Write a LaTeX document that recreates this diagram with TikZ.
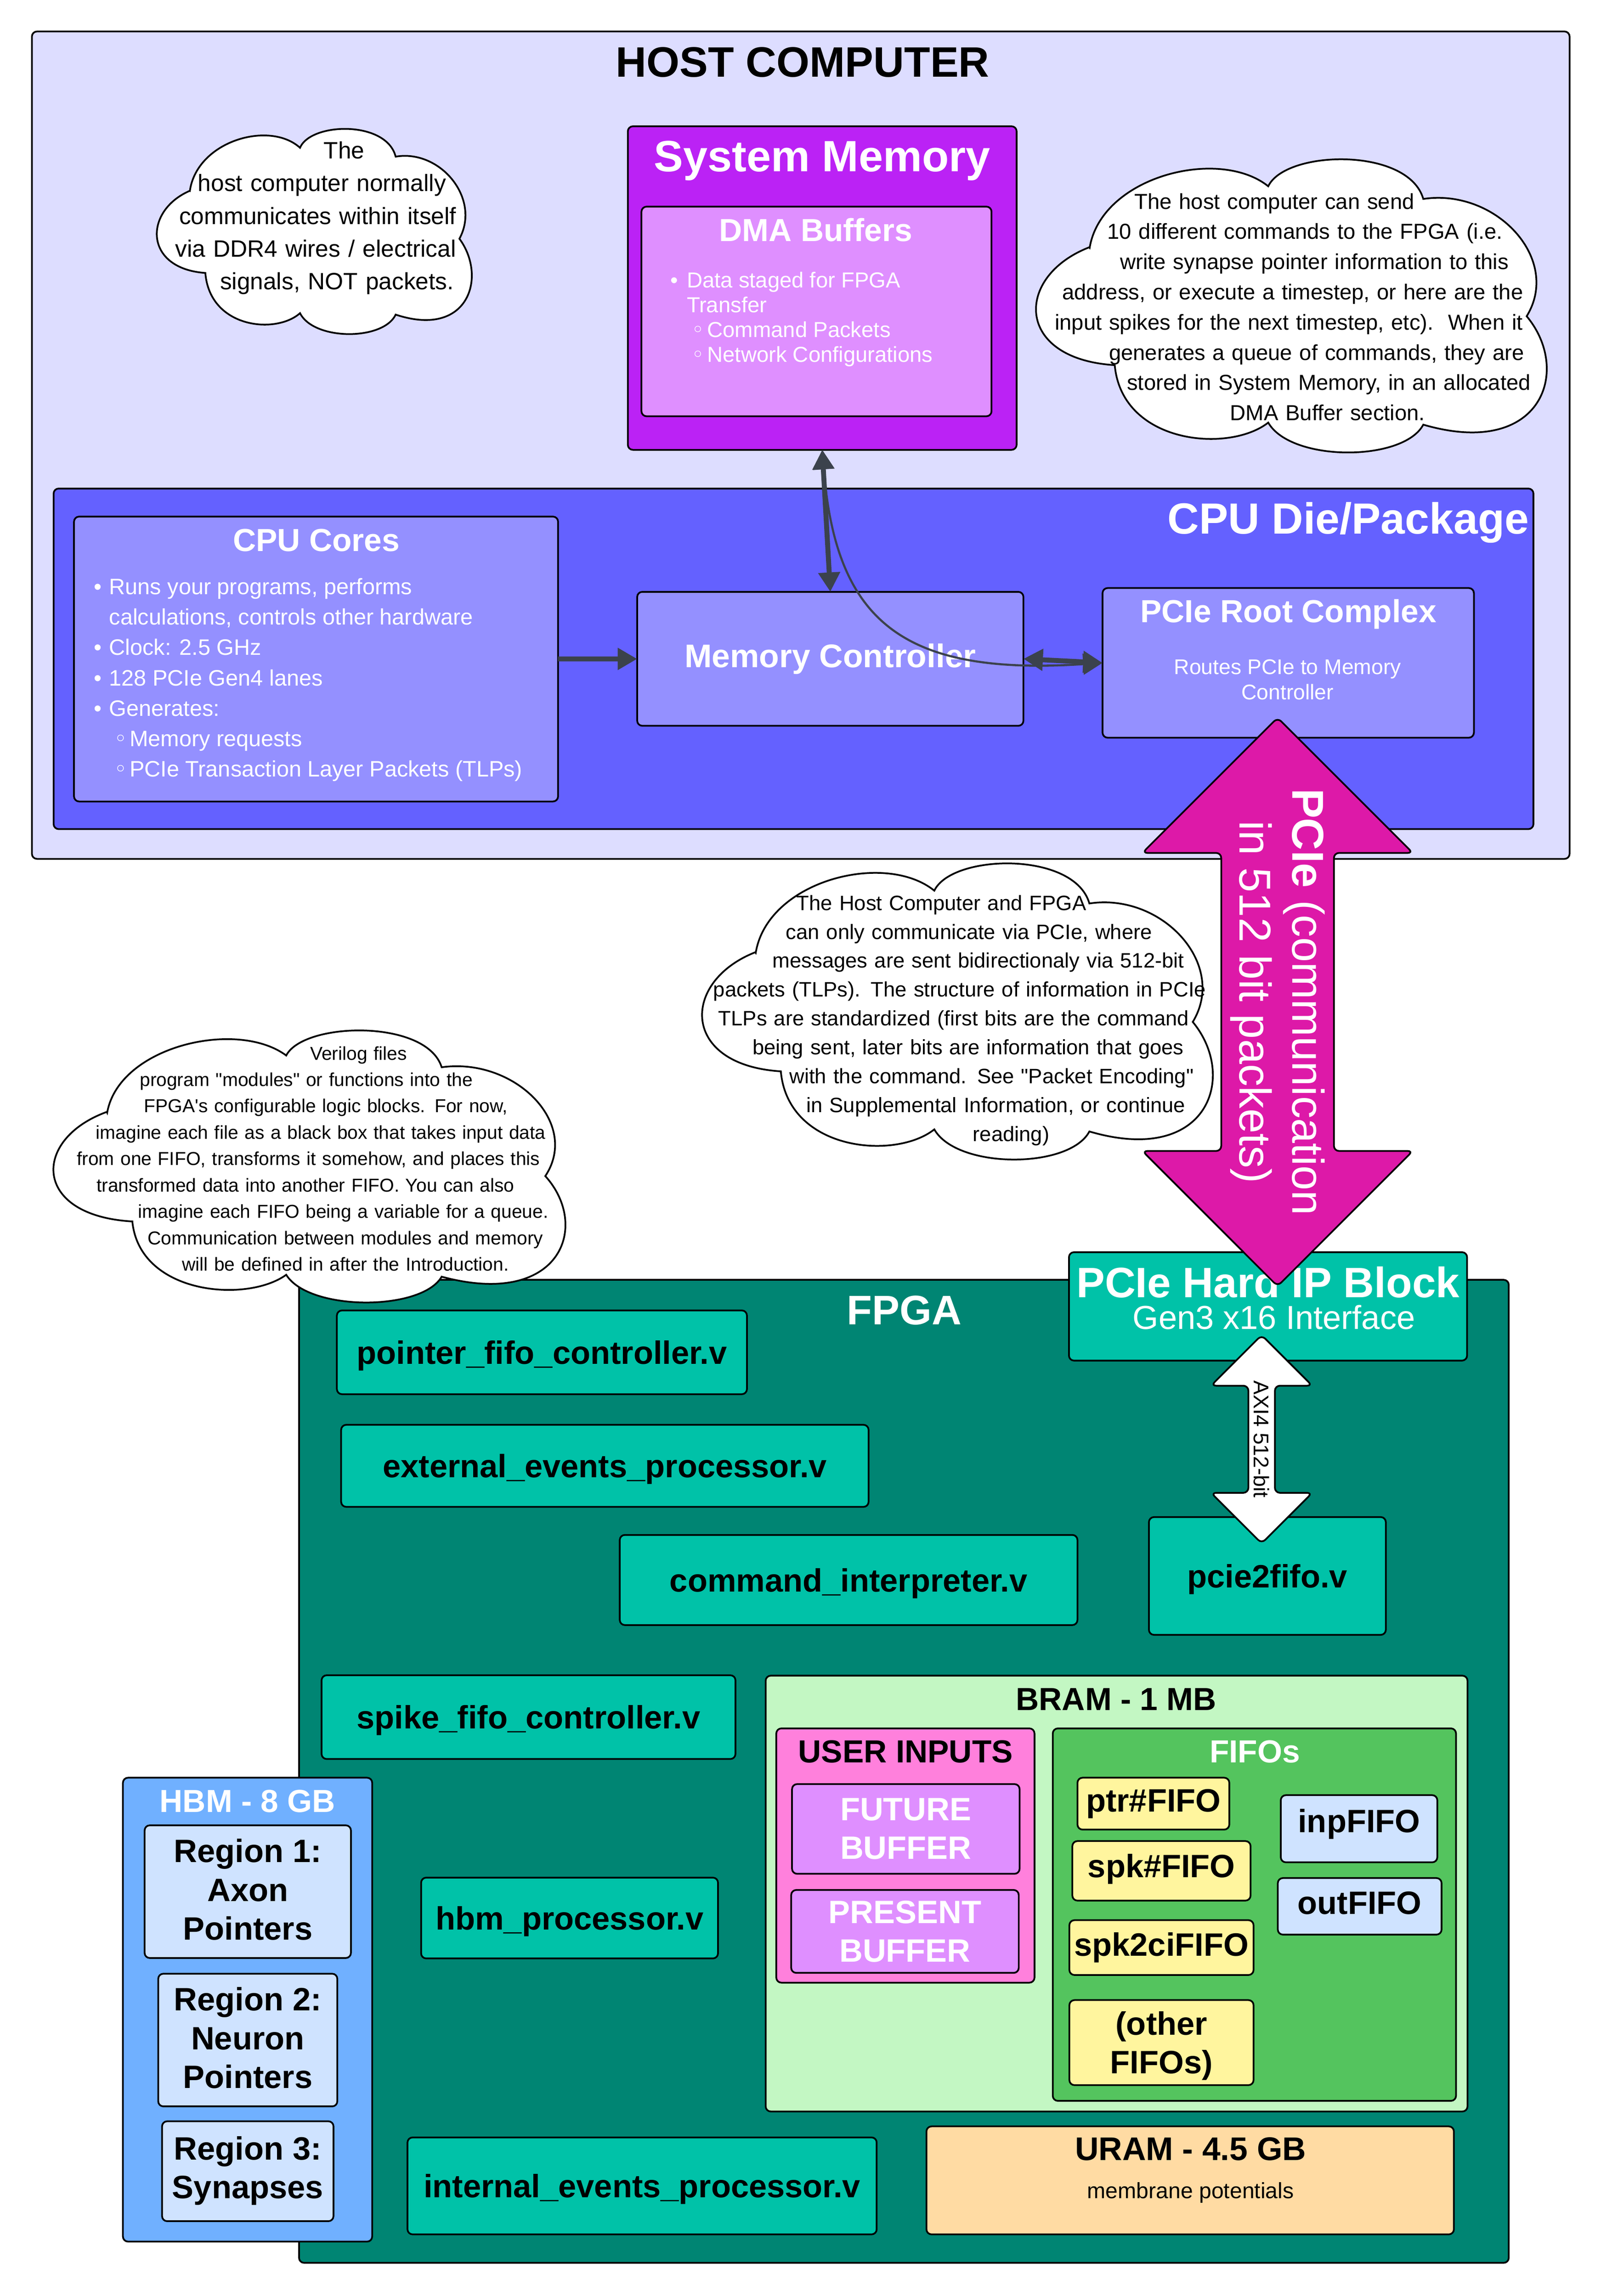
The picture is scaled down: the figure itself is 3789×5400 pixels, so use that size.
\documentclass[tikz,border=0pt]{standalone}
\usepackage{fontspec}
\setmainfont{Liberation Sans}[Ligatures=TeXOff]
\newfontfamily\symfont{DejaVu Sans}
\usetikzlibrary{arrows.meta,shapes.arrows}

\definecolor{hostbg}{HTML}{DDDDFF}
\definecolor{diebg}{HTML}{6461FF}
\definecolor{corebg}{HTML}{9490FF}
\definecolor{sysmem}{HTML}{BB22F5}
\definecolor{dmabg}{HTML}{DF8FFF}
\definecolor{linkpink}{HTML}{DD19A8}
\definecolor{fpgabg}{HTML}{008573}
\definecolor{modbg}{HTML}{00C2A8}
\definecolor{brambg}{HTML}{C3F7C3}
\definecolor{userbg}{HTML}{FF80DC}
\definecolor{fifobg}{HTML}{54C45E}
\definecolor{fifoyel}{HTML}{FFF59E}
\definecolor{hbmbg}{HTML}{70B0FF}
\definecolor{regbg}{HTML}{CFE3FF}
\definecolor{urambg}{HTML}{FFDBA3}
\definecolor{wire}{HTML}{3B424C}

% sizes are given in reference pixels
\newcommand{\px}[2]{\fontsize{\fpeval{#1*0.2845}}{\fpeval{#2*0.2845}}\selectfont}
\newcommand{\pbox}[7]{\node[panel,#1,minimum width={(#5-#3)*0.01cm},minimum height={(#6-#4)*0.01cm}] (#2) at ({(#3+#5)/2},{(#4+#6)/2}) {#7};}
\newcommand{\cloudbox}[4]{\draw[cloudline,shift={(#1,#2)},xscale=#3-#1,yscale=#4-#2]
    (.107,.303) .. controls (.13,.06) and (.36,-.04) .. (.456,.094)
    .. controls (.49,-.03) and (.73,-.04) .. (.759,.137)
    .. controls (.90,.10) and (1.03,.34) .. (.961,.535)
    .. controls (1.05,.72) and (.99,1.02) .. (.759,.903)
    .. controls (.72,1.03) and (.50,1.03) .. (.456,.896)
    .. controls (.38,1.0) and (.17,.97) .. (.156,.701)
    .. controls (-.04,.68) and (-.04,.40) .. cycle;}
\newcommand{\sh}[1]{\hspace*{\fpeval{#1*0.02}cm}}
\newcommand{\itm}[2]{\hspace*{#1}\makebox[#2][l]{•}}
\newcommand{\sitm}[2]{\hspace*{#1}\makebox[#2][l]{\symfont ◦}}

\tikzset{
    panel/.style={draw=black, line width=1.15pt, rounded corners=3.4pt, inner sep=0pt, outer sep=0pt, align=center},
    bighead/.style={font=\px{100}{120}\bfseries, inner sep=0pt},
    subhead/.style={font=\px{75}{92}\bfseries, inner sep=0pt},
    filelabel/.style={font=\px{76}{91}\bfseries},
    modlabel/.style={filelabel, text depth=0pt},
    bodytext/.style={font=\px{50}{58.5}, inner sep=0pt, align=left},
    cloudline/.style={draw=black, fill=white, line width=1.15pt},
    cloudtext/.style={inner sep=0pt, align=center},
    thickwire/.style={draw=wire, line width=3.3pt},
    wiretip/.style={arrows={-{Triangle[length=13pt,width=14pt]}}},
    wiretips/.style={arrows={{Triangle[length=13pt,width=14pt]}-{Triangle[length=13pt,width=14pt]}}},
    blockarrow/.style={double arrow, draw=black, line width=1.15pt, rounded corners=3.4pt, inner sep=0pt, outer sep=0pt, rotate=-90, align=center},
}

\begin{document}
\begin{tikzpicture}[x=0.01cm, y=-0.01cm]
    \useasboundingbox (0,0) rectangle (3789,5400);

    % host side
    \pbox{fill=hostbg}{host}{75}{74}{3690}{2020}{}
    \node[bighead, anchor=base] (hosttitle) at (1887,181) {HOST COMPUTER};

    \cloudbox{367}{302}{1109}{787}
    \node[cloudtext, text width=9cm, font=\px{55.5}{77}] (hostnote) at (750,513) {\sh{59}The\\\sh{7}host computer normally\\\sh{-3}communicates within itself\\\sh{-8}via DDR4 wires / electrical\\\sh{42}signals, NOT packets.};

    \cloudbox{2433}{373}{3636}{1066}
    \node[cloudtext, text width=14cm, font=\px{51}{71}] (cmdnote) at (3060,722) {\sh{-64}The host computer can send\\\sh{8}10 different commands to the FPGA (i.e.\\\sh{30}write synapse pointer information to this\\\sh{-21}address, or execute a timestep, or here are the\\\sh{-30}input spikes for the next timestep, etc).\ \ When it\\\sh{35}generates a queue of commands, they are\\\sh{64}stored in System Memory, in an allocated\\\sh{61}DMA Buffer section.};

    \pbox{fill=sysmem}{sysmem}{1476}{297}{2390}{1058}{}
    \node[font=\px{103}{120}\bfseries, inner sep=0pt, text=white, anchor=base] (sysmemtitle) at (1933,403) {System Memory};
    \pbox{fill=dmabg}{dma}{1508}{486}{2331}{979}{}
    \node[subhead, text=white, anchor=base] (dmatitle) at (1918,568) {DMA Buffers};
    \node[bodytext, text=white, anchor=west, font=\px{51}{58.5}] (dmatext) at (1575,751) {\itm{0pt}{0.39cm}Data staged for FPGA\\\hspace*{0.39cm}Transfer\\\sitm{0.50cm}{0.37cm}Command Packets\\\sitm{0.50cm}{0.37cm}Network Configurations};

    \pbox{fill=diebg}{die}{126}{1149}{3605}{1950}{}
    \node[font=\px{102.5}{120}\bfseries, inner sep=0pt, text=white, anchor=base east] (dietitle) at (3595,1256) {CPU Die/Package};

    \pbox{fill=corebg}{cores}{174}{1215}{1312}{1885}{}
    \node[subhead, text=white, anchor=base] (corestitle) at (744,1297) {CPU Cores};
    \node[bodytext, text=white, anchor=west, font=\px{52.5}{71.5}] (corestext) at (220,1599) {\itm{0pt}{0.36cm}Runs your programs, performs\\\hspace*{0.36cm}calculations, controls other hardware\\\itm{0pt}{0.36cm}Clock: 2.5 GHz\\\itm{0pt}{0.36cm}128 PCIe Gen4 lanes\\\itm{0pt}{0.36cm}Generates:\\\sitm{0.48cm}{0.36cm}Memory requests\\\sitm{0.48cm}{0.36cm}PCIe Transaction Layer Packets (TLPs)};

    \pbox{fill=corebg, font=\px{77}{92}\bfseries, text=white}{memctrl}{1498}{1392}{2406}{1707}{Memory Controller}
    \pbox{fill=corebg}{root}{2592}{1383}{3465}{1735}{}
    \node[subhead, text=white, anchor=base] (roottitle) at (3029,1464) {PCIe Root Complex};
    \node[bodytext, text=white, align=center, anchor=base] (roottext) at (3027,1645) {Routes PCIe to Memory\\Controller};

    \draw[thickwire, wiretip] (cores) -- (memctrl);
    \draw[thickwire, wiretips] (sysmem.south) -- (memctrl.north);
    \draw[thickwire, wiretips] (memctrl.east) -- (root.west);
    \draw[draw=wire, line width=1.4pt, wiretips] (sysmem.south) .. controls (1965,1460) and (2120,1590) .. (root.west);

    % fpga side
    \pbox{fill=fpgabg}{fpga}{703}{3010}{3547}{5322}{}
    \node[font=\px{97}{120}\bfseries, inner sep=0pt, text=white, anchor=base] (fpgatitle) at (2126,3115) {FPGA};

    \pbox{fill=modbg}{hardip}{2513}{2945}{3449}{3200}{}
    \node[font=\px{100}{120}\bfseries, text=white, inner sep=0pt, anchor=base] (hardtitle) at (2981,3051) {PCIe Hard IP Block};
    \node[font=\px{78}{90}, text=white, inner sep=0pt, anchor=base] (hardsub) at (2995,3126) {Gen3 x16 Interface};

    \pbox{fill=modbg, modlabel}{ptrctrl}{792}{3082}{1756}{3279}{pointer\_fifo\_controller.v}
    \pbox{fill=modbg, modlabel}{extproc}{802}{3351}{2042}{3544}{external\_events\_processor.v}
    \pbox{fill=modbg, modlabel}{cmdint}{1457}{3610}{2533}{3822}{command\_interpreter.v}
    \pbox{fill=modbg, modlabel}{piefifo}{2701}{3568}{3258}{3845}{pcie2fifo.v}
    \pbox{fill=modbg, modlabel}{spikectrl}{756}{3940}{1729}{4137}{spike\_fifo\_controller.v}
    \pbox{fill=modbg, modlabel}{hbmproc}{990}{4416}{1688}{4606}{hbm\_processor.v}
    \pbox{fill=modbg, modlabel}{intproc}{958}{5027}{2061}{5255}{internal\_events\_processor.v}

    \pbox{fill=brambg}{bram}{1800}{3941}{3450}{4966}{}
    \node[subhead, anchor=base] (bramtitle) at (2624,4022) {BRAM - 1 MB};
    \pbox{fill=userbg}{userin}{1825}{4065}{2432}{4663}{}
    \node[subhead, anchor=base] (usertitle) at (2129,4146) {USER INPUTS};
    \pbox{fill=dmabg, filelabel, text=white}{futbuf}{1862}{4196}{2397}{4407}{FUTURE\\BUFFER}
    \pbox{fill=dmabg, filelabel, text=white}{prebuf}{1860}{4445}{2395}{4640}{PRESENT\\BUFFER}

    \pbox{fill=fifobg}{fifos}{2475}{4065}{3423}{4941}{}
    \node[subhead, text=white, anchor=base] (fifotitle) at (2950,4146) {FIFOs};
    \pbox{fill=fifoyel, filelabel}{ptrfifo}{2533}{4181}{2890}{4303}{ptr\#FIFO}
    \pbox{fill=fifoyel, filelabel, text depth=.66em}{spkfifo}{2521}{4330}{2940}{4470}{spk\#FIFO}
    \pbox{fill=fifoyel, filelabel}{spkci}{2514}{4516}{2947}{4645}{spk2ciFIFO}
    \pbox{fill=fifoyel, modlabel}{otherfifo}{2514}{4704}{2947}{4904}{(other\\FIFOs)}
    \pbox{fill=regbg, filelabel, text depth=1.05em}{inpfifo}{3011}{4222}{3379}{4380}{inpFIFO}
    \pbox{fill=regbg, filelabel, text depth=.45em}{outfifo}{3004}{4417}{3389}{4550}{outFIFO}

    \pbox{fill=urambg}{uram}{2178}{5001}{3418}{5255}{}
    \node[font=\px{77}{92}\bfseries, inner sep=0pt, anchor=base] (uramtitle) at (2799,5081) {URAM - 4.5 GB};
    \node[bodytext, align=center, anchor=base, font=\px{52}{60}] (uramtext) at (2799,5170) {membrane potentials};

    \pbox{fill=hbmbg}{hbm}{289}{4181}{875}{5272}{}
    \node[subhead, text=white, anchor=base] (hbmtitle) at (582,4262) {HBM - 8 GB};
    \pbox{fill=regbg, filelabel, text depth=.3em}{regone}{340}{4293}{825}{4605}{Region 1:\\Axon\\Pointers}
    \pbox{fill=regbg, filelabel, text depth=.3em}{regtwo}{372}{4642}{793}{4954}{Region 2:\\Neuron\\Pointers}
    \pbox{fill=regbg, filelabel, text depth=.5em}{regthree}{381}{4989}{784}{5224}{Region 3:\\Synapses}

    % links between the two
    \node[blockarrow, fill=white, minimum height=490*0.01cm, minimum width=238*0.01cm, double arrow head extend=57.5*0.01cm, font=\px{50}{60}] (axilink) at (2966,3385) {AXI4 512-bit};
    \node[blockarrow, fill=linkpink, text=white, minimum height=1337*0.01cm, minimum width=636*0.01cm, double arrow head extend=159*0.01cm, font=\px{105}{125}] (pcielink) at (3003.5,2356.5) {{\bfseries PCIe} (communication\\in 512 bit packets)};

    \cloudbox{1648}{2029}{2851}{2729}
    \node[cloudtext, text width=14cm, font=\px{49}{68}] (pcienote) at (2270,2400) {\sh{-57}The Host Computer and FPGA\\\sh{8}can only communicate via PCIe, where\\\sh{30}messages are sent bidirectionaly via 512-bit\\\sh{-14}packets (TLPs). The structure of information in PCIe\\\sh{-28}TLPs are standardized (first bits are the command\\\sh{6}being sent, later bits are information that goes\\\sh{61}with the command. See "Packet Encoding"\\\sh{71}in Supplemental Information, or continue\\\sh{107}reading)};

    \cloudbox{123}{2422}{1329}{3065}
    \node[cloudtext, text width=14cm, font=\px{44}{62}] (verilognote) at (760,2725) {\sh{83}Verilog files\\\sh{-40}program "modules" or functions into the\\\sh{6}FPGA's configurable logic blocks. For now,\\\sh{-6}imagine each file as a black box that takes input data\\\sh{-35}from one FIFO, transforms it somehow, and places this\\\sh{-42}transformed data into another FIFO. You can also\\\sh{47}imagine each FIFO being a variable for a queue.\\\sh{52}Communication between modules and memory\\\sh{52}will be defined in after the Introduction.};
\end{tikzpicture}
\end{document}
